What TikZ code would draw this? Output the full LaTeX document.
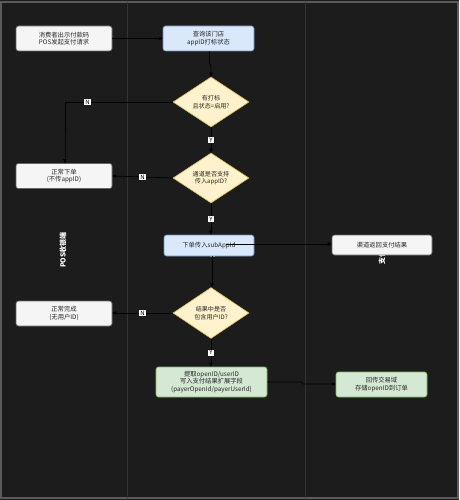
\documentclass[tikz,border=0pt]{standalone}
\usepackage{fontspec}
\setmainfont{Noto Sans CJK SC}
\usetikzlibrary{arrows.meta,shapes.geometric}
\definecolor{bg}{HTML}{1C1C1C}
\definecolor{frame}{HTML}{5A5A5A}
\definecolor{lane}{HTML}{333333}
\definecolor{grayfill}{HTML}{F5F5F5}
\definecolor{grayline}{HTML}{666666}
\definecolor{bluefill}{HTML}{DAE8FC}
\definecolor{blueline}{HTML}{6C8EBF}
\definecolor{yelfill}{HTML}{FFF2CC}
\definecolor{yelline}{HTML}{D6B656}
\definecolor{grnfill}{HTML}{D5E8D4}
\definecolor{grnline}{HTML}{82B366}
\tikzset{
  base/.style={rounded corners=2.5pt, draw, line width=0.6pt, font=\fontsize{6.3}{7.6}\selectfont, align=center, inner sep=0pt, text=black!85},
  graybox/.style={base, fill=grayfill, draw=grayline},
  bluebox/.style={base, fill=bluefill, draw=blueline},
  grnbox/.style={base, fill=grnfill, draw=grnline},
  decision/.style={diamond, aspect=1.5, draw=yelline, fill=yelfill, line width=0.6pt, inner sep=0pt, font=\fontsize{6.1}{7.6}\selectfont, align=center, text=black!85},
  conn/.style={draw=black, line width=0.7pt, -{Triangle[length=4pt,width=3.5pt]}},
  yn/.style={fill=white, text=black, font=\fontsize{6}{6}\selectfont, inner sep=1pt},
  lanelabel/.style={text=white, font=\bfseries\fontsize{7}{7}\selectfont, rotate=90}
}
\begin{document}
\begin{tikzpicture}[x=1pt,y=-1pt]
\useasboundingbox (0,0) rectangle (459,500);
\fill[bg] (0,0) rectangle (459,500);
\draw[frame, line width=1.2pt] (1,2) rectangle (458,498);
\draw[lane, line width=0.8pt] (127,2) -- (127,498);
\draw[lane, line width=0.8pt] (305,2) -- (305,498);

% lane labels
\node[lanelabel] (l1) at (63,250) {POS收银端};
\node[lanelabel] (l2) at (213,247) {收单域};
\node[lanelabel] (l3) at (382,250) {支付渠道};

% nodes
\node[graybox, minimum width=96pt, minimum height=25pt] (A) at (64,38.5) {消费者出示付款码\\POS发起支付请求};
\node[bluebox, minimum width=91pt, minimum height=25pt] (B) at (208.5,38.5) {查询该门店\\appID打标状态};
\node[decision, minimum width=76pt, minimum height=50pt] (D1) at (211,102) {有打标\\且状态=启用?};
\node[graybox, minimum width=96pt, minimum height=25pt] (C) at (64,176) {正常下单\\(不传appID)};
\node[decision, minimum width=76pt, minimum height=50pt] (D2) at (211,178) {通道是否支持\\传入appID?};
\node[bluebox, minimum width=90pt, minimum height=21pt] (E) at (209,245.5) {下单传入subAppId};
\node[graybox, minimum width=100pt, minimum height=20pt] (F) at (382,245) {渠道返回支付结果};
\node[decision, minimum width=76pt, minimum height=51pt] (D3) at (211,313) {结果中是否\\包含用户ID?};
\node[graybox, minimum width=96pt, minimum height=25pt] (G) at (64,313.5) {正常完成\\(无用户ID)};
\node[grnbox, minimum width=111pt, minimum height=30pt] (H) at (211.5,382) {提取openID/userID\\写入支付结果扩展字段\\(payerOpenId/payerUserId)};
\node[grnbox, minimum width=91pt, minimum height=25pt] (I) at (381.5,384.5) {回传交易域\\存储openID到订单};

% connectors
\draw[conn] (A.east) -- (B.west);
\draw[conn] (B.south) ++(1,0) coordinate (b1) -- (b1 |- 0,63) -- (211,66) -- (D1.north);
\draw[conn] (D1.west) -- (65,102) node[yn, pos=0.79] {N} -- (65,163) -- (C.north -| 65,0);
\draw[conn] (D1.south) -- (D2.north) node[yn, midway] {Y};
\draw[conn] (D2.west) -- (C.east) node[yn, pos=0.5] {N};
\draw[conn] (D2.south) -- (E.north -| D2.south) node[yn, midway] {Y};
\coordinate (e1) at (226,244);
\draw[conn] (e1) -- (F.west |- e1);
\draw[conn] (E.south -| 212,0) -- (D3.north -| 212,0);
\draw[conn] (D3.west) -- (G.east |- D3.west) node[yn, pos=0.5] {N};
\draw[conn] (D3.south) -- (H.north -| D3.south) node[yn, midway] {Y};
\draw[conn] (H.east |- 0,382) -- (301,382) -- (303,384) -- (I.west |- 0,384);
\end{tikzpicture}
\end{document}
